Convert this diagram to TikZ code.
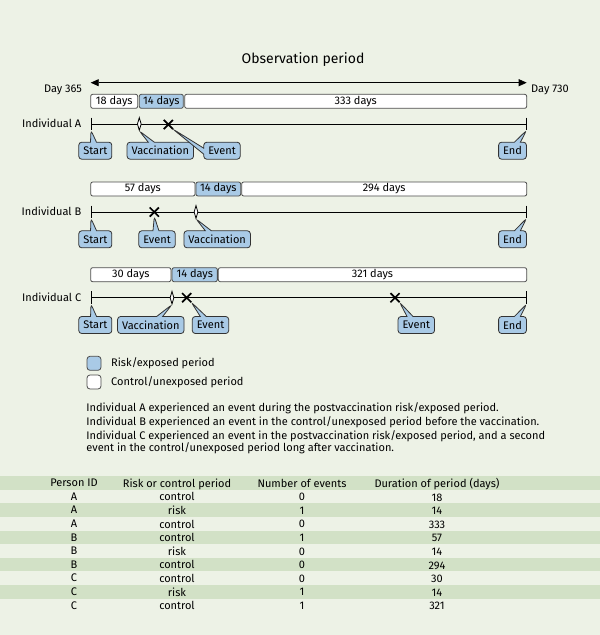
\documentclass[tikz,border=0pt]{standalone}
\usepackage{fontspec}
\setmainfont{Fira Sans}
\usetikzlibrary{arrows.meta,shapes.geometric,shapes.misc,shapes.callouts}

\definecolor{panelgreen}{HTML}{EDF2E6}
\definecolor{stripegreen}{HTML}{D2E1C6}
\definecolor{riskblue}{HTML}{A9CAE6}

\tikzset{
  period/.style={draw=black!70, rounded corners=2pt, minimum height=14pt, inner sep=0pt},
  riskbar/.style={period, fill=riskblue},
  ctrlbar/.style={period, fill=white},
  tick/.style={inner sep=0pt, minimum width=0pt, minimum height=12pt},
  vacc/.style={diamond, draw, fill=white, inner sep=0pt, minimum width=4pt, minimum height=13pt},
  event/.style={cross out, draw, line width=1.7pt, inner sep=0pt, minimum size=7.5pt},
  tag/.style={rectangle callout, draw=black!80, fill=riskblue, rounded corners=3pt,
              minimum height=17pt, inner xsep=4.5pt, inner ysep=0pt, callout pointer width=6pt},
  who/.style={anchor=east},
}

\begin{document}
\begin{tikzpicture}[x=1pt, y=-1pt, line width=0.8pt, font=\fontsize{11}{13}\selectfont]
\fill[panelgreen] (0,0) rectangle (600,635);
\useasboundingbox (0,0) rectangle (600,635);

% observation window
\node[font=\fontsize{14}{16}\selectfont] (title) at (303,59.3) {Observation period};
\node (day365) at (63,90) {Day 365};
\node (day730) at (550,90) {Day 730};
\coordinate (obsL) at (90.7,82.7);
\coordinate (obsR) at (526.7,82.7);
\path [<->, >={Triangle[length=8pt,width=7pt]}] (obsL) edge (obsR);

% period bars
\begin{scope}
    \node[ctrlbar, minimum width=47pt] (barA1) at (114.2,101.3) {18 days};
    \node[riskbar, minimum width=44pt] (barA2) at (161.3,101.3) {14 days};
    \node[ctrlbar, minimum width=342pt] (barA3) at (355.7,101.3) {333 days};

    \node[ctrlbar, minimum width=104.3pt] (barB1) at (142.9,189) {57 days};
    \node[riskbar, minimum width=44.7pt] (barB2) at (218.3,189) {14 days};
    \node[ctrlbar, minimum width=285pt] (barB3) at (384.2,189) {294 days};

    \node[ctrlbar, minimum width=80.3pt] (barC1) at (130.8,274.7) {30 days};
    \node[riskbar, minimum width=45.3pt] (barC2) at (194.7,274.7) {14 days};
    \node[ctrlbar, minimum width=308.4pt] (barC3) at (372.5,274.7) {321 days};
\end{scope}

% timelines
\node[who] (nameA) at (85,123.5) {Individual A};
\node[who] (nameB) at (85,211.5) {Individual B};
\node[who] (nameC) at (85,297.2) {Individual C};
\node[tick] (startA) at (91,124) {};
\node[tick] (endA) at (526.5,124) {};
\node[tick] (startB) at (91,212) {};
\node[tick] (endB) at (526.5,212) {};
\node[tick] (startC) at (91,297.7) {};
\node[tick] (endC) at (526.5,297.7) {};

\path (startA.center) edge (endA.center)
      (startA.north) edge (startA.south)
      (endA.north) edge (endA.south);
\path (startB.center) edge (endB.center)
      (startB.north) edge (startB.south)
      (endB.north) edge (endB.south);
\path (startC.center) edge (endC.center)
      (startC.north) edge (startC.south)
      (endC.north) edge (endC.south);

\node[vacc] (vaccA) at (139.3,124) {};
\node[event] (eventA) at (168.3,124.5) {};
\node[event] (eventB) at (154.3,212) {};
\node[vacc] (vaccB) at (196,212) {};
\node[vacc] (vaccC) at (172,297.7) {};
\node[event] (eventC1) at (186.7,297.7) {};
\node[event] (eventC2) at (395,297.7) {};

% callouts
\node[tag, callout absolute pointer={(startA.south)}] (startTagA) at (95.3,150.7) {Start};
\node[tag, callout absolute pointer={(vaccA.south)}] (vaccTagA) at (160.3,150.7) {Vaccination};
\node[tag, callout absolute pointer={(eventA.south east)}] (eventTagA) at (222,150.7) {Event};
\node[tag, callout absolute pointer={(endA.south)}] (endTagA) at (512.5,150.7) {End};

\node[tag, callout absolute pointer={(startB.south)}] (startTagB) at (95.3,239.3) {Start};
\node[tag, callout absolute pointer={(eventB.south)}] (eventTagB) at (157,239.3) {Event};
\node[tag, callout absolute pointer={(vaccB.south)}] (vaccTagB) at (217.2,239.3) {Vaccination};
\node[tag, callout absolute pointer={(endB.south)}] (endTagB) at (512.5,239.3) {End};

\node[tag, callout absolute pointer={(startC.south)}] (startTagC) at (95.3,325) {Start};
\node[tag, callout absolute pointer={(vaccC.south)}] (vaccTagC) at (150.8,325) {Vaccination};
\node[tag, callout absolute pointer={(eventC1.south east)}] (eventTagC1) at (210.5,325) {Event};
\node[tag, callout absolute pointer={(eventC2.south east)}] (eventTagC2) at (416.3,325) {Event};
\node[tag, callout absolute pointer={(endC.south)}] (endTagC) at (512.5,325) {End};

% legend
\node[riskbar, minimum width=14pt, rounded corners=3pt] (riskKey) at (94,363.3) {};
\node[anchor=west] (riskText) at (107.5,363.5) {Risk/exposed period};
\node[ctrlbar, minimum width=14pt, rounded corners=3pt] (ctrlKey) at (94,382) {};
\node[anchor=west] (ctrlText) at (107.5,382.5) {Control/unexposed period};

% notes
\node[anchor=west] (noteA) at (82.7,408.5) {Individual A experienced an event during the postvaccination risk/exposed period.};
\node[anchor=west] (noteB) at (82.7,422.5) {Individual B experienced an event in the control/unexposed period before the vaccination.};
\node[anchor=west, align=left, font=\fontsize{11}{12}\selectfont] (noteC) at (82.7,442)
    {Individual C experienced an event in the postvaccination risk/exposed period, and a second\\
     event in the control/unexposed period long after vaccination.};

% table
\fill[stripegreen] (0,476.2) rectangle (600,489.8);
\fill[stripegreen] (0,503.4) rectangle (600,517);
\fill[stripegreen] (0,530.6) rectangle (600,544.2);
\fill[stripegreen] (0,557.8) rectangle (600,571.4);
\fill[stripegreen] (0,585) rectangle (600,598.6);

\begin{scope}[every node/.style={align=center, font=\fontsize{11}{13.6}\selectfont}]
    \node (colId) at (74,544.2) {Person ID\\A\\A\\A\\B\\B\\B\\C\\C\\C};
    \node (colPeriod) at (177,544.2) {Risk or control period\\control\\risk\\control\\control\\risk\\control\\control\\risk\\control};
    \node (colEvents) at (302,544.2) {Number of events\\0\\1\\0\\1\\0\\0\\0\\1\\1};
    \node (colDays) at (437,544.2) {Duration of period (days)\\18\\14\\333\\57\\14\\294\\30\\14\\321};
\end{scope}
\end{tikzpicture}
\end{document}
